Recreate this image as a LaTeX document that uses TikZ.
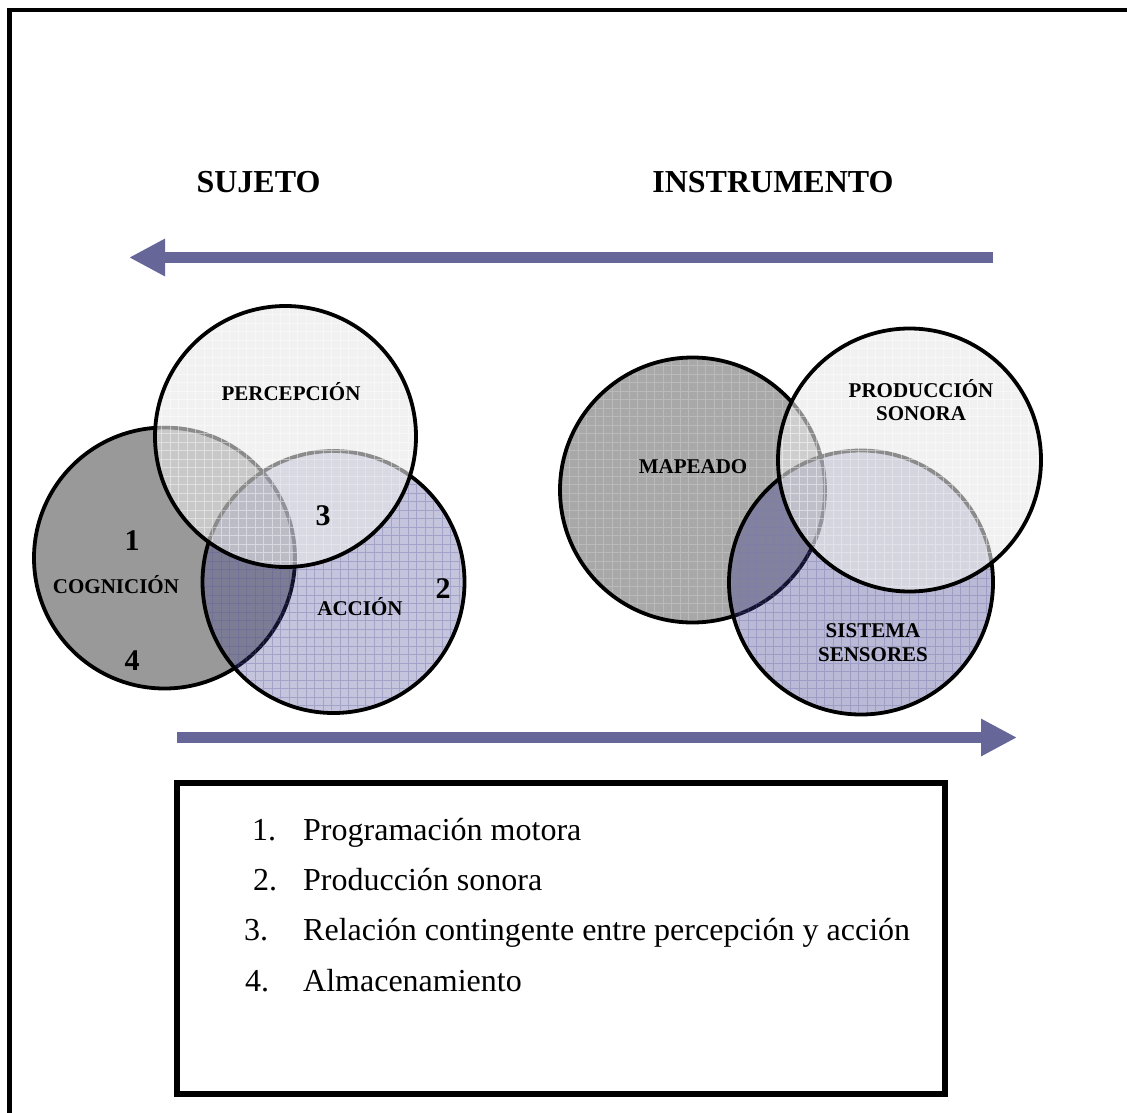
\documentclass[tikz,border=0pt]{standalone}
\usepackage{fontspec}
\setmainfont{Liberation Serif}
\usetikzlibrary{arrows.meta}

\definecolor{arrowblue}{RGB}{102,102,153}
\definecolor{cogfill}{RGB}{153,153,153}
\definecolor{lightfill}{RGB}{232,232,232}
\definecolor{bluefill}{RGB}{60,60,140}
\definecolor{mapfill}{RGB}{168,168,168}
\definecolor{gridblue}{RGB}{90,90,160}
\definecolor{gridgrey}{RGB}{205,205,205}

% name, x, y, diameter, fill colour, fill opacity, grid style
\newcommand\venncircle[7]{%
  \node[venn, minimum size=#4, fill=#5, fill opacity=#6] (#1) at (#2,#3) {};
  \begin{scope}
    \clip (#2,#3) circle[radius=#4/2-2.5];
    \draw[#7, line width=0.6pt, step=8.5pt] (#2-140,#3+140) grid (#2+140,#3-140);
  \end{scope}
}

\begin{document}
\begin{tikzpicture}[x=1pt,y=-1pt,
  venn/.style={circle, draw=black, line width=3.8pt, inner sep=0pt},
  whitegrid/.style={white, opacity=0.45},
  bluegrid/.style={gridblue, opacity=0.3},
  greygrid/.style={gridgrey, opacity=0.5},
  nogrid/.style={draw=none},
  bigarrow/.style={arrowblue, line width=11pt,
    -{Triangle[length=36pt 0 0, width=35pt 0 0]}},
  title/.style={font=\fontsize{32}{36}\selectfont\bfseries, inner sep=0pt, anchor=base},
  lbl/.style={font=\fontsize{21}{24}\selectfont\bfseries, inner sep=0pt, anchor=base},
  num/.style={font=\fontsize{30}{34}\selectfont\bfseries, inner sep=0pt, anchor=base},
  item/.style={font=\fontsize{32}{36}\selectfont, inner sep=0pt, anchor=base west},
  frame/.style={draw=black, line width=4.5pt, line join=miter}
]
\useasboundingbox (0,0) rectangle (1127,1113);
\fill[white] (0,0) rectangle (1127,1113);

% outer frame (open to the right and bottom)
\coordinate (frTR) at (1127,10);
\coordinate (frTL) at (9.5,10);
\coordinate (frBL) at (9.5,1113);
\draw[frame] (frTR) -- (frTL) -- (frBL);

% headings
\node[title] (sujeto) at (258.5,192) {SUJETO};
\node[title] (instr) at (773,192) {INSTRUMENTO};

% direction arrows
\coordinate (aTopStart) at (993,257.5);
\coordinate (aTopEnd) at (129,257.5);
\draw[bigarrow] (aTopStart) -- (aTopEnd);
\coordinate (aBotStart) at (177,737.5);
\coordinate (aBotEnd) at (1017,737.5);
\draw[bigarrow] (aBotStart) -- (aBotEnd);

% subject circles
\venncircle{cog}{164.5}{558}{261}{cogfill}{1}{nogrid}
\venncircle{acc}{333.5}{582}{262}{bluefill}{0.3}{bluegrid}
\venncircle{perc}{285.5}{436.5}{261}{lightfill}{0.6}{whitegrid}

% instrument circles
\venncircle{map}{692.5}{490}{265}{mapfill}{1}{greygrid}
\venncircle{sis}{861}{582.5}{264}{bluefill}{0.35}{bluegrid}
\venncircle{prod}{909.5}{460}{263}{lightfill}{0.6}{whitegrid}

% circle labels
\node[lbl] (tperc) at (291,400) {PERCEPCIÓN};
\node[lbl] (tcog) at (116,593) {COGNICIÓN};
\node[lbl] (tacc) at (360,615) {ACCIÓN};
\node[num] (n1) at (132,550) {1};
\node[num] (n4) at (132,670) {4};
\node[num] (n3) at (323,525) {3};
\node[num] (n2) at (443,598) {2};

\node[lbl] (tmap) at (693,473) {MAPEADO};
\node[lbl] (tprod) at (921,397) {PRODUCCIÓN};
\node[lbl] (tson) at (921,420) {SONORA};
\node[lbl] (tsis) at (873,637) {SISTEMA};
\node[lbl] (tsen) at (873,661) {SENSORES};

% legend
\draw[line width=6pt, line join=miter] (177,783) rectangle (945,1094);
\node[item] (l1n) at (252,840) {1.};
\node[item] (l1) at (303,840) {Programación motora};
\node[item] (l2n) at (253,890) {2.};
\node[item] (l2) at (303,890) {Producción sonora};
\node[item] (l3n) at (244,940) {3.};
\node[item] (l3) at (303,940) {Relación contingente entre percepción y acción};
\node[item] (l4n) at (245,991) {4.};
\node[item] (l4) at (303,991) {Almacenamiento};
\end{tikzpicture}
\end{document}
